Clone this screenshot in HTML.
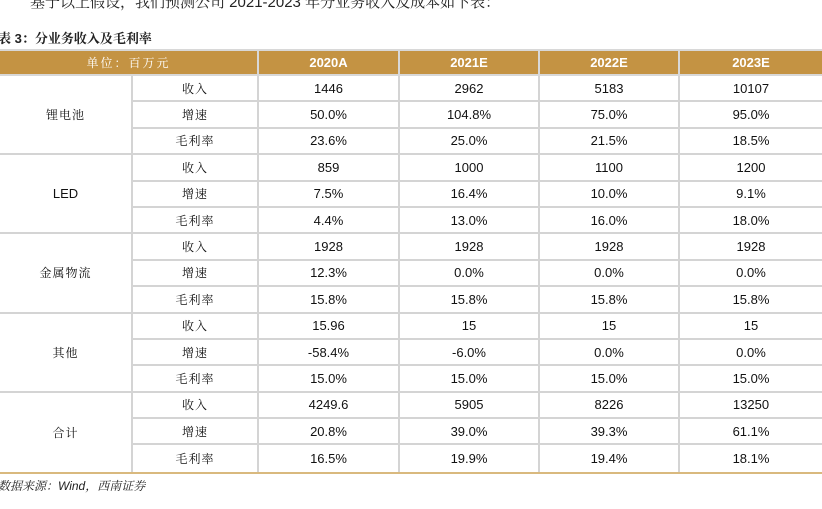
<!DOCTYPE html>
<html><head><meta charset="utf-8"><style>
body{margin:0;width:822px;height:509px;background:#fff;position:relative;overflow:hidden;font-family:"Liberation Sans","Noto Sans CJK SC",sans-serif;}
.top{position:absolute;left:30px;top:-9px;font-size:15px;color:#222;font-family:"Liberation Sans","Noto Serif CJK SC",serif;white-space:nowrap;}
.title{position:absolute;left:-2px;top:28px;font-size:13px;font-weight:bold;color:#222;font-family:"Liberation Sans","Noto Serif CJK SC",serif;}
.grid{position:absolute;left:0;top:49px;width:822px;display:grid;grid-template-columns:133px 126px 141px 140px 140px 142px;grid-template-rows:27px repeat(15,26.4px);border-bottom:2px solid #d9b97e;}
.grid div{display:flex;align-items:center;justify-content:center;border-right:2px solid #d4d4d4;border-bottom:2px solid #d4d4d4;box-sizing:border-box;font-size:13px;color:#111;}
.grid .h{background:#c49343;color:#fff;font-weight:bold;font-size:13px;border-color:#d8d8d8;border-top:2px solid #d8d8d8;}
.grid .h.u{font-weight:normal;font-family:"Liberation Sans","Noto Serif CJK SC",serif;font-size:12px;letter-spacing:2px}
.grid .c{grid-row:span 3;font-family:"Liberation Sans","Noto Serif CJK SC",serif;font-size:12px;letter-spacing:1px}
.grid .c.e{letter-spacing:0;font-size:13px}
.grid .l{font-family:"Liberation Sans","Noto Serif CJK SC",serif;font-size:12px;letter-spacing:1px}
.grid .last{border-right:none}
.src{position:absolute;left:-2px;top:477px;font-size:12px;font-style:italic;color:#222;font-family:"Liberation Sans","Noto Serif CJK SC",serif;}
</style></head><body>
<div class="top">基于以上假设，我们预测公司 2021-2023 年分业务收入及成本如下表：</div>
<div class="title">表 3：分业务收入及毛利率</div>
<div class="grid">
<div class="h u" style="grid-column:span 2">单位：百万元</div><div class="h">2020A</div><div class="h">2021E</div><div class="h">2022E</div><div class="h last">2023E</div>
<div class="c">锂电池</div><div class="l">收入</div><div>1446</div><div>2962</div><div>5183</div><div class="last">10107</div>
<div class="l">增速</div><div>50.0%</div><div>104.8%</div><div>75.0%</div><div class="last">95.0%</div>
<div class="l">毛利率</div><div>23.6%</div><div>25.0%</div><div>21.5%</div><div class="last">18.5%</div>
<div class="c e">LED</div><div class="l">收入</div><div>859</div><div>1000</div><div>1100</div><div class="last">1200</div>
<div class="l">增速</div><div>7.5%</div><div>16.4%</div><div>10.0%</div><div class="last">9.1%</div>
<div class="l">毛利率</div><div>4.4%</div><div>13.0%</div><div>16.0%</div><div class="last">18.0%</div>
<div class="c">金属物流</div><div class="l">收入</div><div>1928</div><div>1928</div><div>1928</div><div class="last">1928</div>
<div class="l">增速</div><div>12.3%</div><div>0.0%</div><div>0.0%</div><div class="last">0.0%</div>
<div class="l">毛利率</div><div>15.8%</div><div>15.8%</div><div>15.8%</div><div class="last">15.8%</div>
<div class="c">其他</div><div class="l">收入</div><div>15.96</div><div>15</div><div>15</div><div class="last">15</div>
<div class="l">增速</div><div>-58.4%</div><div>-6.0%</div><div>0.0%</div><div class="last">0.0%</div>
<div class="l">毛利率</div><div>15.0%</div><div>15.0%</div><div>15.0%</div><div class="last">15.0%</div>
<div class="c" style="border-bottom:none">合计</div><div class="l">收入</div><div>4249.6</div><div>5905</div><div>8226</div><div class="last">13250</div>
<div class="l">增速</div><div>20.8%</div><div>39.0%</div><div>39.3%</div><div class="last">61.1%</div>
<div class="l" style="border-bottom:none">毛利率</div><div style="border-bottom:none">16.5%</div><div style="border-bottom:none">19.9%</div><div style="border-bottom:none">19.4%</div><div class="last" style="border-bottom:none">18.1%</div>
</div>
<div class="src">数据来源：Wind，西南证券</div>
</body></html>
